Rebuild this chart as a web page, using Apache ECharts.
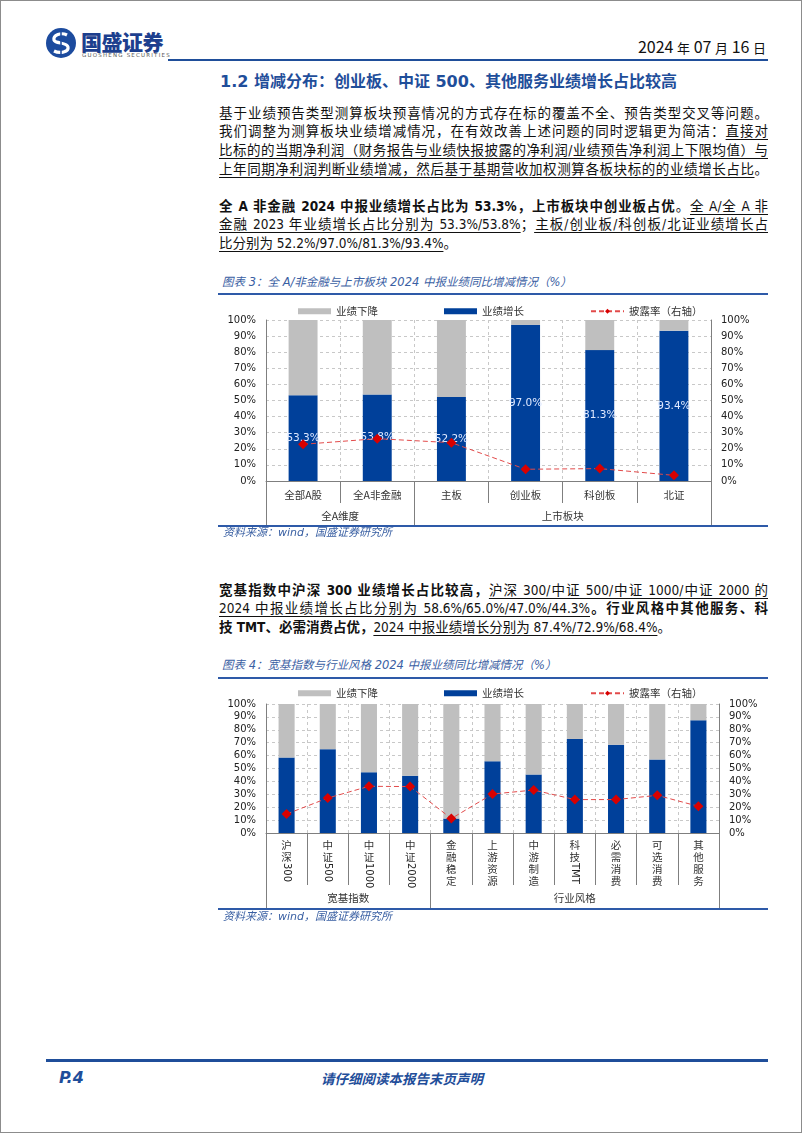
<!DOCTYPE html>
<html><head><meta charset="utf-8">
<script src="https://cdn.jsdelivr.net/npm/echarts@6/dist/echarts.min.js"></script>
<style>
html,body{margin:0;padding:0;background:#fff;}
#page{position:relative;width:800px;height:1131px;border:1px solid #8c8c8c;overflow:hidden;background:#fff;}
.abs{position:absolute;white-space:nowrap;}
.ln{position:absolute;left:218px;width:549px;height:19px;line-height:19px;font-size:13.5px;color:#111;
  font-family:"DejaVu Sans Condensed","Noto Sans CJK SC",sans-serif;text-align:justify;text-align-last:justify;white-space:nowrap;}
.ln.last{text-align-last:left;}
.b{font-weight:bold;}
.u{text-decoration:underline;text-underline-offset:3px;text-decoration-thickness:1px;}
.ct{position:absolute;left:221px;font-size:11.5px;line-height:16px;color:#3a60a3;font-style:italic;font-family:"DejaVu Sans","Noto Sans CJK SC",sans-serif;white-space:nowrap;}
.src{position:absolute;left:222px;font-size:11px;line-height:14px;color:#3a60a3;font-style:italic;font-family:"DejaVu Sans","Noto Sans CJK SC",sans-serif;white-space:nowrap;}
.hl{position:absolute;background:#2e5aa8;}
.chart{position:absolute;left:217px;width:550px;height:230px;}
</style></head>
<body><div id="page">
<!-- header -->
<svg class="abs" style="left:44px;top:26px" width="32" height="32" viewBox="0 0 32 32">
  <circle cx="16" cy="16" r="15" fill="#1c4b9e"/>
  <path d="M22 8 C16 5,8 8,9 13 C10 17,22 15,23 20 C24 25,15 27,9 24" fill="none" stroke="#fff" stroke-width="3.2"/>
  <path d="M16 3 L16 29" stroke="#1c4b9e" stroke-width="1.5"/>
</svg>
<div class="abs" style="left:80px;top:27px;font-size:21px;font-weight:900;color:#1d3f8e;font-family:'Noto Sans CJK SC';letter-spacing:-0.5px;line-height:26px;">国盛证券</div>
<div class="abs" style="left:81px;top:51px;font-size:5.5px;color:#555;letter-spacing:1.2px;font-family:'DejaVu Sans';line-height:7px;">GUOSHENG SECURITIES</div>
<div class="abs" style="right:35px;top:35px;font-size:16px;color:#111;font-family:'Liberation Sans Narrow','Noto Sans CJK SC';line-height:20px;">2024 <span style="font-size:13px">年</span> 07 <span style="font-size:13px">月</span> 16 <span style="font-size:13px">日</span></div>
<div class="hl" style="left:167px;top:58px;width:600px;height:2px;background:#1f4e9a;"></div>

<!-- section title -->
<div class="abs" style="left:219px;top:71px;font-size:16px;line-height:20px;font-weight:bold;color:#1f4e9a;font-family:'DejaVu Sans','Noto Sans CJK SC';">1.2 增减分布：创业板、中证 500、其他服务业绩增长占比较高</div>

<!-- paragraph 1 -->
<div class="ln" style="top:102.5px">基于业绩预告类型测算板块预喜情况的方式存在标的覆盖不全、预告类型交叉等问题。</div>
<div class="ln" style="top:121.2px">我们调整为测算板块业绩增减情况，在有效改善上述问题的同时逻辑更为简洁：<span class="u">直接对</span></div>
<div class="ln" style="top:139.8px"><span class="u">比标的的当期净利润（财务报告与业绩快报披露的净利润/业绩预告净利润上下限均值）与</span></div>
<div class="ln" style="top:158.5px"><span class="u">上年同期净利润判断业绩增减，然后基于基期营收加权测算各板块标的的业绩增长占比</span>。</div>

<!-- paragraph 2 -->
<div class="ln" style="top:195.5px"><span class="b">全 A 非金融 2024 中报业绩增长占比为 53.3%，上市板块中创业板占优</span>。<span class="u">全 A/全 A 非</span></div>
<div class="ln" style="top:214.2px"><span class="u">金融 2023 年业绩增长占比分别为 53.3%/53.8%</span>；<span class="u">主板/创业板/科创板/北证业绩增长占</span></div>
<div class="ln last" style="top:232.8px"><span class="u">比分别为 52.2%/97.0%/81.3%/93.4%</span>。</div>

<!-- chart 3 -->
<div class="ct" style="top:273px">图表 3：全 A/非金融与上市板块 2024 中报业绩同比增减情况（%）</div>
<div class="hl" style="left:217px;top:292px;width:550px;height:2px;"></div>
<div id="c1" class="chart" style="top:298px"></div>
<div class="hl" style="left:217px;top:523.5px;width:550px;height:2px;"></div>
<div class="src" style="top:525px">资料来源：wind，国盛证券研究所</div>

<!-- paragraph 3 -->
<div class="ln" style="top:579.5px"><span class="b">宽基指数中沪深 300 业绩增长占比较高，</span><span class="u">沪深 300/中证 500/中证 1000/中证 2000 的</span></div>
<div class="ln" style="top:598.2px"><span class="u">2024 中报业绩增长占比分别为 58.6%/65.0%/47.0%/44.3%</span><span class="b">。行业风格中其他服务、科</span></div>
<div class="ln last" style="top:616.8px"><span class="b">技 TMT、必需消费占优，</span><span class="u">2024 中报业绩增长分别为 87.4%/72.9%/68.4%</span>。</div>

<!-- chart 4 -->
<div class="ct" style="top:656px">图表 4：宽基指数与行业风格 2024 中报业绩同比增减情况（%）</div>
<div class="hl" style="left:217px;top:676px;width:550px;height:2px;"></div>
<div id="c2" class="chart" style="top:681px"></div>
<div class="hl" style="left:217px;top:907px;width:550px;height:2px;"></div>
<div class="src" style="top:908.5px">资料来源：wind，国盛证券研究所</div>

<!-- footer -->
<div class="hl" style="left:45px;top:1058px;width:722px;height:3px;background:#1f4e9a;"></div>
<div class="abs" style="left:58px;top:1067px;font-size:16px;font-weight:bold;font-style:italic;color:#1f4e9a;font-family:'DejaVu Sans';line-height:20px;">P.4</div>
<div class="abs" style="left:320px;top:1068px;font-size:13.5px;font-weight:bold;font-style:italic;color:#1f4e9a;font-family:'Noto Sans CJK SC';line-height:18px;">请仔细阅读本报告末页声明</div>
</div>

<script>
// ---- data: chart 3 ----
const cat1 = ['全部A股', '全A非金融', '主板', '创业板', '科创板', '北证'];
const up1 = [53.3, 53.8, 52.2, 97.0, 81.3, 93.4];
const down1 = [46.7, 46.2, 47.8, 3.0, 18.7, 6.6];
const rate1 = [22.8, 26.3, 23.8, 7.3, 7.7, 3.5];
const groups1 = ['全A维度', '上市板块'];
const groupSpan1 = [2, 4];

// ---- data: chart 4 ----
const cat2 = ['沪深300', '中证500', '中证1000', '中证2000', '金融稳定', '上游资源', '中游制造', '科技TMT', '必需消费', '可选消费', '其他服务'];
const up2 = [58.6, 65.0, 47.0, 44.3, 11.2, 55.6, 45.3, 72.9, 68.4, 56.9, 87.4];
const down2 = [41.4, 35.0, 53.0, 55.7, 88.8, 44.4, 54.7, 27.1, 31.6, 43.1, 12.6];
const rate2 = [14.7, 27.1, 36.2, 36.0, 11.2, 30.2, 33.3, 25.9, 25.9, 29.2, 20.7];
const groups2 = ['宽基指数', '行业风格'];
const groupSpan2 = [4, 7];

const seriesNames = ['业绩下降', '业绩增长', '披露率（右轴）'];
const yMin = 0, yMax = 100, yStep = 10;

const BLUE = '#00409a', GRAY = '#bfbfbf', AX = '#7f7f7f';
const CJK = '"Noto Sans CJK SC", sans-serif';
const LAT = '"DejaVu Sans", sans-serif';

function splitCat(s) {
  const m = s.match(/^([\u4e00-\u9fff]+)(.*)$/);
  return m ? [m[1], m[2]] : [s, ''];
}

function makeOption(cfg) {
  const n = cfg.cats.length;
  const bounds = [0];
  cfg.groupSpan.forEach(s => bounds.push(bounds[bounds.length - 1] + s));
  const centers = cfg.groupSpan.map((s, i) => bounds[i] + s / 2);
  const yAxisBase = {
    type: 'value', min: yMin, max: yMax, interval: yStep,
    axisLine: { show: true, lineStyle: { color: AX } },
    axisTick: { show: false },
    axisLabel: { formatter: '{value}%', margin: 10, fontSize: 10, color: '#222', fontFamily: LAT }
  };
  const xAxes = [
    {
      type: 'category', data: cfg.cats, position: 'bottom',
      axisLine: { lineStyle: { color: AX } },
      axisTick: { show: true, interval: 0, length: cfg.tickLen, lineStyle: { color: AX } },
      axisLabel: {
        interval: 0, margin: cfg.labelMargin, fontSize: 10.5, lineHeight: 12, color: '#333', fontFamily: CJK,
        formatter: cfg.vertical ? (v => splitCat(v)[0].split('').join('\n')) : (v => v)
      },
      splitLine: { show: true, interval: 0, lineStyle: { color: '#c8c8c8', type: [3, 3] } }
    },
    {
      type: 'value', position: 'bottom', min: 0, max: n,
      axisLine: { show: false }, splitLine: { show: false },
      axisTick: { show: true, customValues: bounds, length: cfg.groupTickLen, lineStyle: { color: AX } },
      axisLabel: {
        show: true, customValues: centers, margin: cfg.groupMargin, fontSize: 10.5, color: '#333', fontFamily: CJK,
        formatter: v => { const i = centers.indexOf(v); return i >= 0 ? cfg.groups[i] : ''; }
      }
    }
  ];
  if (cfg.vertical) {
    xAxes.push({
      type: 'category', data: cfg.cats, position: 'bottom',
      axisLine: { show: false }, axisTick: { show: false }, splitLine: { show: false },
      axisLabel: {
        interval: 0, rotate: -90, margin: cfg.labelMargin + 24, fontSize: 10, color: '#222', fontFamily: LAT,
        formatter: v => splitCat(v)[1]
      }
    });
  }
  return {
    animation: false,
    grid: { left: 48, right: cfg.gridRight, top: cfg.gridTop, bottom: cfg.gridBottom },
    legend: {
      left: 75, top: cfg.legendTop, itemWidth: 33, itemHeight: 6, itemGap: 66,
      textStyle: { fontSize: 10.5, color: '#333', fontFamily: CJK },
      data: [{ name: seriesNames[0], icon: 'rect' }, { name: seriesNames[1], icon: 'rect' }, { name: seriesNames[2] }]
    },
    xAxis: xAxes,
    yAxis: [
      Object.assign({}, yAxisBase, { position: 'left', splitLine: { show: true, lineStyle: { color: '#c8c8c8', type: [3, 3] } } }),
      Object.assign({}, yAxisBase, { position: 'right', splitLine: { show: false } })
    ],
    series: [
      {
        name: seriesNames[1], type: 'bar', stack: 's', data: cfg.up, barWidth: '39%',
        itemStyle: { color: BLUE },
        label: cfg.showLabels ? {
          show: true, position: 'inside', color: '#dfe9ff', fontSize: 10.5, fontFamily: LAT,
          formatter: p => p.value.toFixed(1) + '%'
        } : { show: false }
      },
      { name: seriesNames[0], type: 'bar', stack: 's', data: cfg.down, barWidth: '39%', itemStyle: { color: GRAY } },
      {
        name: seriesNames[2], type: 'line', yAxisIndex: 1, data: cfg.rate, z: 5,
        symbol: 'diamond', symbolSize: 10,
        itemStyle: { color: '#d80000' },
        lineStyle: { color: '#e24a4a', width: 1, type: [5, 3] }
      }
    ]
  };
}

const ch1 = echarts.init(document.getElementById('c1'));
ch1.setOption(makeOption({
  cats: cat1, up: up1, down: down1, rate: rate1, groups: groups1, groupSpan: groupSpan1,
  vertical: false, showLabels: true, tickLen: 22, groupTickLen: 44, labelMargin: 8, groupMargin: 30,
  gridRight: 57, gridTop: 21, gridBottom: 48, legendTop: 2
}));

const ch2 = echarts.init(document.getElementById('c2'));
ch2.setOption(makeOption({
  cats: cat2, up: up2, down: down2, rate: rate2, groups: groups2, groupSpan: groupSpan2,
  vertical: true, showLabels: false, tickLen: 52, groupTickLen: 76, labelMargin: 6, groupMargin: 60,
  gridRight: 49, gridTop: 22, gridBottom: 79, legendTop: 1
}));
</script>
</body></html>
